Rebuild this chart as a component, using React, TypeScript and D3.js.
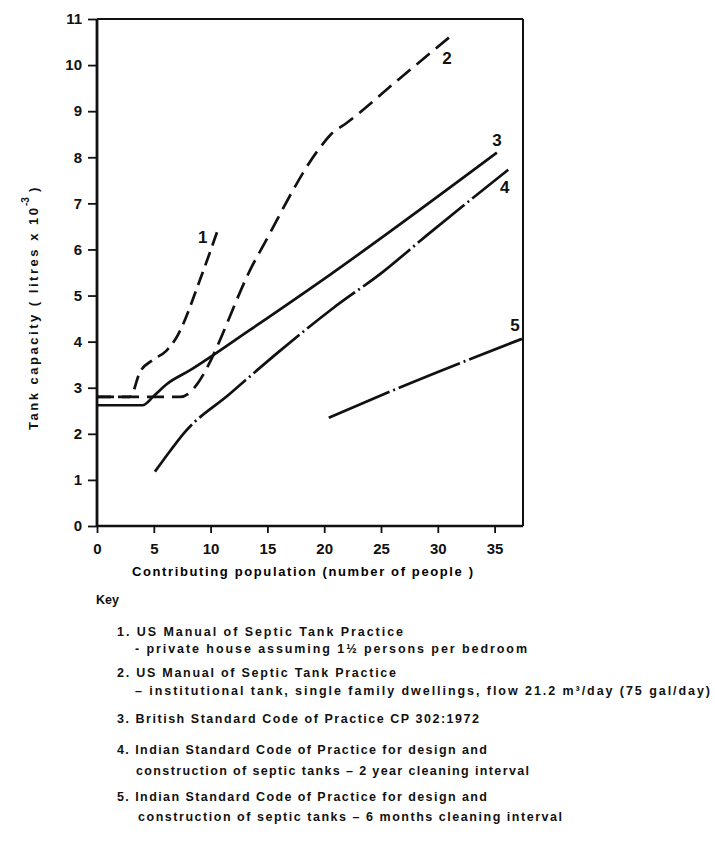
import React, { useRef, useEffect } from "react";
import { select, scaleLinear, axisBottom, axisLeft, line, curveMonotoneX } from "d3";

// axis ticks
const xTicks = [0, 5, 10, 15, 20, 25, 30, 35];
const yTicks = [0, 1, 2, 3, 4, 5, 6, 7, 8, 9, 10, 11];

// [population, capacity (litres x 10^-3)]
const usPrivateHouse = [[0, 2.8], [2.9, 2.8], [3.8, 3.35], [4.9, 3.6], [6.1, 3.8], [6.9, 4.05], [9.3, 5.5], [10.6, 6.4]];
const usInstitutional = [[0, 2.8], [7.3, 2.8], [14, 5.8], [19.6, 8.2], [20.6, 8.5], [22, 8.75], [26.6, 9.7], [31, 10.6]];
const britishCP302 = [[0, 2.62], [4, 2.62], [5, 2.82], [6.1, 3.07], [8.2, 3.38], [13.5, 4.26], [20.5, 5.45], [35.2, 8.1]];
const indianTwoYear = [[5.1, 1.18], [6.5, 1.65], [7.6, 2.0], [11.7, 2.87], [16.1, 3.8], [20.8, 4.73], [25.2, 5.52], [29, 6.3], [36.2, 7.73]];
const indianSixMonth = [[20.4, 2.35], [26.6, 3.0], [37.4, 4.06]];

// curve number labels, placed at [population, capacity]
const curveNames = ["1", "2", "3", "4", "5"];
const curveLabelAt = [[9.3, 6.27], [30.8, 10.15], [35.2, 8.37], [35.9, 7.36], [36.8, 4.36]];

const legendTitles = [
  "1.  US Manual of Septic Tank Practice",
  "2.  US Manual of Septic Tank Practice",
  "3.  British Standard Code of Practice CP 302:1972",
  "4.  Indian Standard Code of Practice for design and",
  "5.  Indian Standard Code of Practice for design and",
];
const legendDetails = [
  "-  private house assuming 1½ persons per bedroom",
  "–  institutional tank, single family dwellings, flow 21.2 m³/day (75 gal/day)",
  "",
  "construction of septic tanks – 2 year cleaning interval",
  "construction of septic tanks – 6 months cleaning interval",
];

const FONT = "'Liberation Sans', Arial, sans-serif";

function App() {
  const svgRef = useRef(null);

  useEffect(() => {
    const svg = select(svgRef.current);
    svg.selectAll("*").remove();

    const x = scaleLinear().domain([0, 37.5]).range([97, 523]);
    const y = scaleLinear().domain([0, 11]).range([526, 19]);

    // axes
    const gx = svg.append("g").attr("transform", `translate(0,${y(0)})`)
      .call(axisBottom(x).tickValues(xTicks).tickSize(7).tickPadding(10));
    const gy = svg.append("g").attr("transform", `translate(${x(0)},0)`)
      .call(axisLeft(y).tickValues(yTicks).tickSize(9).tickPadding(6));
    [gx, gy].forEach(g => {
      g.select(".domain").remove();
      g.selectAll("line").attr("stroke", "#111").attr("stroke-width", 1.8);
      g.selectAll("text").attr("font-family", FONT).attr("font-size", 15)
        .attr("font-weight", "bold").attr("fill", "#111");
    });

    // frame
    const frame = svg.append("g").attr("stroke", "#111").attr("fill", "none");
    frame.append("line").attr("x1", x(0)).attr("x2", x(37.5)).attr("y1", y(11)).attr("y2", y(11)).attr("stroke-width", 1.8);
    frame.append("line").attr("x1", x(37.5)).attr("x2", x(37.5)).attr("y1", y(11)).attr("y2", y(0)).attr("stroke-width", 2);
    frame.append("line").attr("x1", x(0)).attr("x2", x(37.5)).attr("y1", y(0)).attr("y2", y(0)).attr("stroke-width", 2.6);
    frame.append("line").attr("x1", x(0)).attr("x2", x(0)).attr("y1", y(11)).attr("y2", y(0) + 1).attr("stroke-width", 2.8);

    // curves
    const path = line().x(d => x(d[0])).y(d => y(d[1])).curve(curveMonotoneX);
    const curves = [
      { data: usPrivateHouse, dash: "14 7" },
      { data: usInstitutional, dash: "17 8" },
      { data: britishCP302, dash: null },
      { data: indianTwoYear, dash: "60 4 2 4" },
      { data: indianSixMonth, dash: "66 4 2 4" },
    ];
    svg.append("g").selectAll("path").data(curves).join("path")
      .attr("d", d => path(d.data))
      .attr("fill", "none")
      .attr("stroke", "#111")
      .attr("stroke-width", 2.7)
      .attr("stroke-dasharray", d => d.dash)
      .attr("stroke-linecap", "butt");

    svg.append("g").selectAll("text").data(curveNames).join("text")
      .attr("x", (d, i) => x(curveLabelAt[i][0]))
      .attr("y", (d, i) => y(curveLabelAt[i][1]))
      .attr("dy", "0.36em")
      .attr("text-anchor", "middle")
      .attr("font-family", FONT).attr("font-size", 17).attr("font-weight", "bold")
      .attr("fill", "#111")
      .text(d => d);

    // axis titles
    svg.append("text")
      .attr("x", 132).attr("y", 576)
      .attr("textLength", 341).attr("lengthAdjust", "spacing")
      .attr("font-family", FONT).attr("font-size", 13).attr("font-weight", "bold")
      .text("Contributing  population  (number  of  people )");

    const yt = svg.append("g").attr("transform", "translate(38,0) rotate(-90)")
      .attr("font-family", FONT).attr("font-weight", "bold").attr("fill", "#111");
    yt.append("text").attr("x", -430).attr("y", 0).attr("font-size", 13)
      .attr("textLength", 222).attr("lengthAdjust", "spacing")
      .text("Tank  capacity  ( litres  x  10");
    yt.append("text").attr("x", -206).attr("y", -9).attr("font-size", 10).text("-3");
    yt.append("text").attr("x", -192).attr("y", 0).attr("font-size", 13).text(")");

    // key
    const key = svg.append("g").attr("font-family", FONT).attr("font-weight", "bold")
      .attr("font-size", 12.5).attr("fill", "#111");
    key.append("text").attr("x", 96).attr("y", 604).text("Key");
    const titleY = [636, 677, 723, 754, 801];
    const titleW = [286, 279, 362, 370, 370];
    const detailY = [653, 695, 0, 775, 821];
    const detailX = [135, 135, 0, 136, 138];
    const detailW = [392, 575, 0, 393, 424];
    legendTitles.forEach((t, i) => {
      key.append("text").attr("x", 117).attr("y", titleY[i])
        .attr("textLength", titleW[i]).attr("lengthAdjust", "spacing").text(t);
      if (legendDetails[i]) {
        key.append("text").attr("x", detailX[i]).attr("y", detailY[i])
          .attr("textLength", detailW[i]).attr("lengthAdjust", "spacing").text(legendDetails[i]);
      }
    });
  }, []);

  return (
    <svg ref={svgRef} width={715} height={843}
      style={{ position: "absolute", left: 0, top: 0, background: "#fff" }} />
  );
}

export default App;
